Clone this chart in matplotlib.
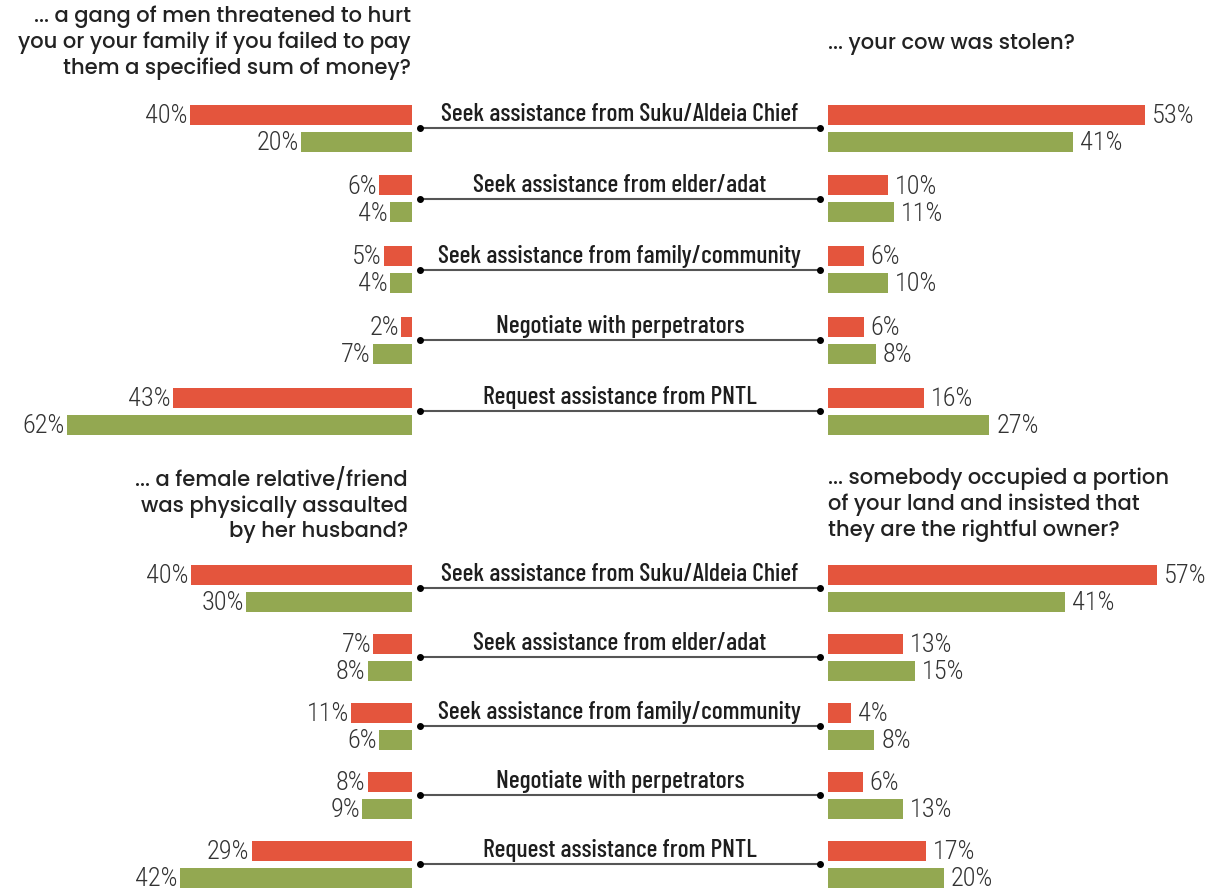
import matplotlib.pyplot as plt

W, H = 1213, 889

categories = ['Seek assistance from Suku/Aldeia Chief',
              'Seek assistance from elder/adat',
              'Seek assistance from family/community',
              'Negotiate with perpetrators',
              'Request assistance from PNTL']

gang_red = [40, 6, 5, 2, 43]
gang_green = [20, 4, 4, 7, 62]
cow_red = [53, 10, 6, 6, 16]
cow_green = [41, 11, 10, 8, 27]
assault_red = [40, 7, 11, 8, 29]
assault_green = [30, 8, 6, 9, 42]
land_red = [57, 13, 4, 6, 17]
land_green = [41, 15, 8, 13, 20]

title_gang = '... a gang of men threatened to hurt\nyou or your family if you failed to pay\nthem a specified sum of money?'
title_cow = '... your cow was stolen?'
title_assault = '... a female relative/friend\nwas physically assaulted\nby her husband?'
title_land = '... somebody occupied a portion\nof your land and insisted that\nthey are the rightful owner?'

RED = '#e4553d'
GREEN = '#93a851'
PCT_FONT = ['Roboto Condensed', 'DejaVu Sans']
LABEL_FONT = ['Barlow Condensed', 'Roboto Condensed', 'DejaVu Sans']
TITLE_FONT = ['Poppins', 'DejaVu Sans']

fig = plt.figure(figsize=(W / 100, H / 100), dpi=100)


def px_axes(x0, x1, y0, y1):
    ax = fig.add_axes([x0 / W, 1 - y1 / H, (x1 - x0) / W, (y1 - y0) / H])
    ax.axis('off')
    return ax


def panel(y0, y1, first_line, step, left_red, left_green, right_red, right_green,
          left_scale, right_scale):
    ylim = ((y1 - first_line) / step, (y0 - first_line) / step)
    off = 13.5 / step
    h = 20 / step
    rows = list(range(len(categories)))

    left = px_axes(0, 412, y0, y1)
    left.set_xlim(412 / left_scale, 0)
    left.set_ylim(*ylim)
    right = px_axes(828, W, y0, y1)
    right.set_xlim(0, (W - 828) / right_scale)
    right.set_ylim(*ylim)
    mid = px_axes(412, 828, y0, y1)
    mid.set_xlim(0, 1)
    mid.set_ylim(*ylim)

    for ax, reds, greens, sign in ((left, left_red, left_green, -1),
                                   (right, right_red, right_green, 1)):
        ax.barh([r - off for r in rows], reds, height=h, color=RED)
        ax.barh([r + off for r in rows], greens, height=h, color=GREEN)
        for r, v_r, v_g in zip(rows, reds, greens):
            for y, v in ((r - off, v_r), (r + off, v_g)):
                ax.annotate(f'{v}%', (v, y), xytext=(-1.5 if sign < 0 else 5, -1),
                            textcoords='offset points',
                            ha='right' if sign < 0 else 'left', va='center',
                            fontsize=19, color='#333333', family=PCT_FONT,
                            weight='light')

    for r, label in zip(rows, categories):
        mid.plot([0.02, 0.98], [r, r], color='#555555', lw=1.5,
                 marker='o', markersize=4, markerfacecolor='black',
                 markeredgecolor='black')
        mid.annotate(label, (0.5, r), xytext=(0, 5), textcoords='offset points',
                     ha='center', va='baseline', fontsize=18.5, color='#1e1e1e',
                     family=LABEL_FONT, weight=500)


panel(88, 445, 128, 70.75, gang_red, gang_green, cow_red, cow_green, 5.56, 5.98)
panel(550, 889, 588, 69, assault_red, assault_green, land_red, land_green, 5.53, 5.78)

title_kw = dict(fontsize=15.2, color='#222222', family=TITLE_FONT, linespacing=1.2,
                va='top', weight=500)
fig.text(411 / W, 1 - 6 / H, title_gang, ha='right', **title_kw)
fig.text(828 / W, 1 - 33 / H, title_cow, ha='left', **title_kw)
fig.text(408 / W, 1 - 468 / H, title_assault, ha='right', **title_kw)
fig.text(828 / W, 1 - 468 / H, title_land, ha='left', **title_kw)

fig.savefig('out.png', dpi=100, facecolor='white')
